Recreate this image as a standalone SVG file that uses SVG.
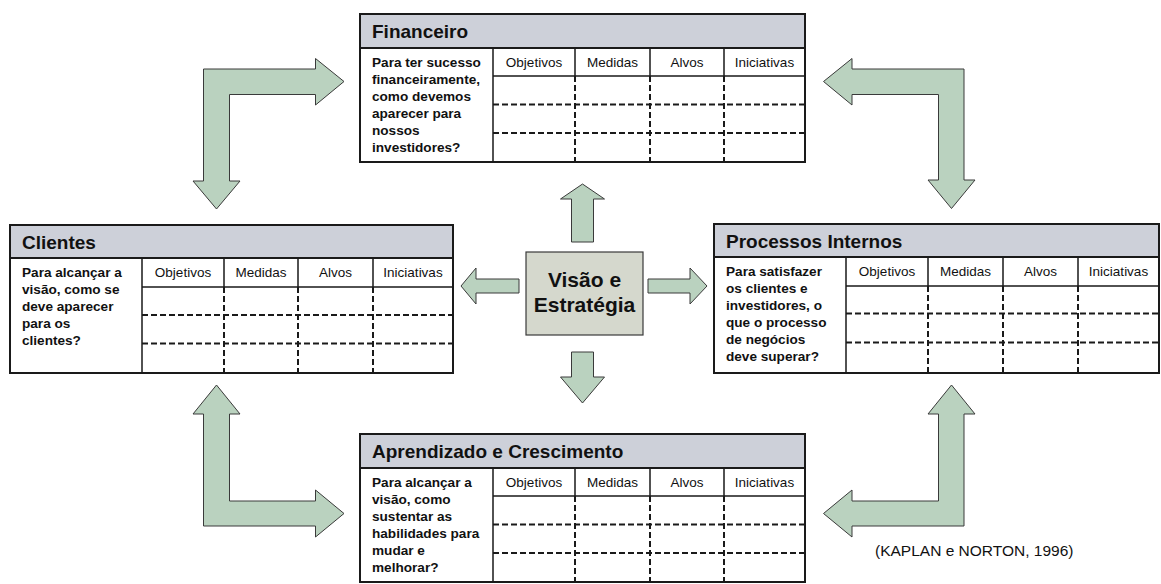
<svg xmlns="http://www.w3.org/2000/svg" width="1161" height="584" viewBox="0 0 1161 584">
<style>
.box{fill:#fff;stroke:#1a1a1a;stroke-width:2}
.hdr{fill:#cdd0d9;stroke:#1a1a1a;stroke-width:2}
.ln{stroke:#1a1a1a;stroke-width:1.5;fill:none}
.ds{stroke:#1a1a1a;stroke-width:2;stroke-dasharray:6 3;fill:none}
.ttl{font-family:"Liberation Sans",Arial,sans-serif;font-weight:bold;font-size:19px;fill:#111}
.q{font-family:"Liberation Sans",Arial,sans-serif;font-weight:bold;font-size:13.6px;fill:#111}
.ch{font-family:"Liberation Sans",Arial,sans-serif;font-size:13.5px;fill:#111;text-anchor:middle}
.arr{fill:#bad2bf;stroke:#3a3a3a;stroke-width:1}
.ctr{fill:#d5d8cd;stroke:#3a3a3a;stroke-width:1.2}
.ct{font-family:"Liberation Sans",Arial,sans-serif;font-weight:bold;font-size:21px;fill:#111;text-anchor:middle}
.cit{font-family:"Liberation Sans",Arial,sans-serif;font-size:15.5px;fill:#111}
</style>
<g id="connectors">
<polygon class="arr" points="582.5,184 604.5,199 593.5,199 593.5,242 571.5,242 571.5,199 560.5,199"/>
<polygon class="arr" points="582.5,403 604.5,377 593.5,377 593.5,352 571.5,352 571.5,377 560.5,377"/>
<polygon class="arr" points="461,286 476,268 476,279 519,279 519,293 476,293 476,304"/>
<polygon class="arr" points="707,286 690,268 690,279 648,279 648,293 690,293 690,304"/>
<polygon class="arr" points="216.5,209 240,181 229.5,181 229.5,94.5 315.5,94.5 315.5,105 344,81.5 315.5,58.5 315.5,69 203.5,69 203.5,181 193,181"/>
<polygon class="arr" points="823.5,81.5 852,58.5 852,69 964,69 964,180 975,180 951.5,208.5 928,180 938.5,180 938.5,94.5 852,94.5 852,105"/>
<polygon class="arr" points="216.5,385 240,414 229.5,414 229.5,501 315.5,501 315.5,490 344,513.5 315.5,537 315.5,526 203.5,526 203.5,414 193,414"/>
<polygon class="arr" points="951.5,385 975,414 964,414 964,526 852,526 852,537 823.5,513.5 852,490 852,501 938.5,501 938.5,414 928,414"/>
</g>
<g id="visao">
<rect class="ctr" x="526" y="252" width="117" height="83"/>
<text class="ct" x="584.5" y="287">Visão e</text>
<text class="ct" x="584.5" y="312">Estratégia</text>
</g>
<g id="financeiro">
<rect class="box" x="360" y="14" width="445" height="148"/>
<rect class="hdr" x="360" y="14" width="445" height="34"/>
<text class="ttl" x="372" y="38">Financeiro</text>
<path class="ln" d="M493 48V162M493 76H805M575 48V76M650 48V76M724 48V76"/>
<path class="ds" d="M493 104.5H805M493 133H805M575 76V162M650 76V162M724 76V162"/>
<text class="ch" x="534" y="67">Objetivos</text>
<text class="ch" x="612.5" y="67">Medidas</text>
<text class="ch" x="687" y="67">Alvos</text>
<text class="ch" x="764.5" y="67">Iniciativas</text>
<text class="q" x="372" y="67">Para ter sucesso</text>
<text class="q" x="372" y="84">financeiramente,</text>
<text class="q" x="372" y="101">como devemos</text>
<text class="q" x="372" y="118">aparecer para</text>
<text class="q" x="372" y="135">nossos</text>
<text class="q" x="372" y="152">investidores?</text>
</g>
<g id="clientes">
<rect class="box" x="10" y="225" width="443" height="148"/>
<rect class="hdr" x="10" y="225" width="443" height="33"/>
<text class="ttl" x="22" y="249">Clientes</text>
<path class="ln" d="M142 258V373M142 287H453M224 258V287M298 258V287M373 258V287"/>
<path class="ds" d="M142 315H453M142 343.5H453M224 287V373M298 287V373M373 287V373"/>
<text class="ch" x="183" y="277">Objetivos</text>
<text class="ch" x="261" y="277">Medidas</text>
<text class="ch" x="335.5" y="277">Alvos</text>
<text class="ch" x="413" y="277">Iniciativas</text>
<text class="q" x="22" y="277">Para alcançar a</text>
<text class="q" x="22" y="294">visão, como se</text>
<text class="q" x="22" y="311">deve aparecer</text>
<text class="q" x="22" y="328">para os</text>
<text class="q" x="22" y="345">clientes?</text>
</g>
<g id="processos">
<rect class="box" x="714" y="224" width="445" height="149"/>
<rect class="hdr" x="714" y="224" width="445" height="33"/>
<text class="ttl" x="726" y="248">Processos Internos</text>
<path class="ln" d="M846 257V373M846 286H1159M928 257V286M1003 257V286M1078 257V286"/>
<path class="ds" d="M846 313.5H1159M846 342.5H1159M928 286V373M1003 286V373M1078 286V373"/>
<text class="ch" x="887" y="276">Objetivos</text>
<text class="ch" x="965.5" y="276">Medidas</text>
<text class="ch" x="1040.5" y="276">Alvos</text>
<text class="ch" x="1118.5" y="276">Iniciativas</text>
<text class="q" x="726" y="276">Para satisfazer</text>
<text class="q" x="726" y="293">os clientes e</text>
<text class="q" x="726" y="310">investidores, o</text>
<text class="q" x="726" y="327">que o processo</text>
<text class="q" x="726" y="344">de negócios</text>
<text class="q" x="726" y="361">deve superar?</text>
</g>
<g id="aprendizado">
<rect class="box" x="360" y="434" width="445" height="148"/>
<rect class="hdr" x="360" y="434" width="445" height="34"/>
<text class="ttl" x="372" y="458">Aprendizado e Crescimento</text>
<path class="ln" d="M493 468V582M493 496H805M575 468V496M650 468V496M724 468V496"/>
<path class="ds" d="M493 524.5H805M493 553H805M575 496V582M650 496V582M724 496V582"/>
<text class="ch" x="534" y="487">Objetivos</text>
<text class="ch" x="612.5" y="487">Medidas</text>
<text class="ch" x="687" y="487">Alvos</text>
<text class="ch" x="764.5" y="487">Iniciativas</text>
<text class="q" x="372" y="487">Para alcançar a</text>
<text class="q" x="372" y="504">visão, como</text>
<text class="q" x="372" y="521">sustentar as</text>
<text class="q" x="372" y="538">habilidades para</text>
<text class="q" x="372" y="555">mudar e</text>
<text class="q" x="372" y="572">melhorar?</text>
</g>
<text class="cit" x="875" y="556">(KAPLAN e NORTON, 1996)</text>
</svg>
